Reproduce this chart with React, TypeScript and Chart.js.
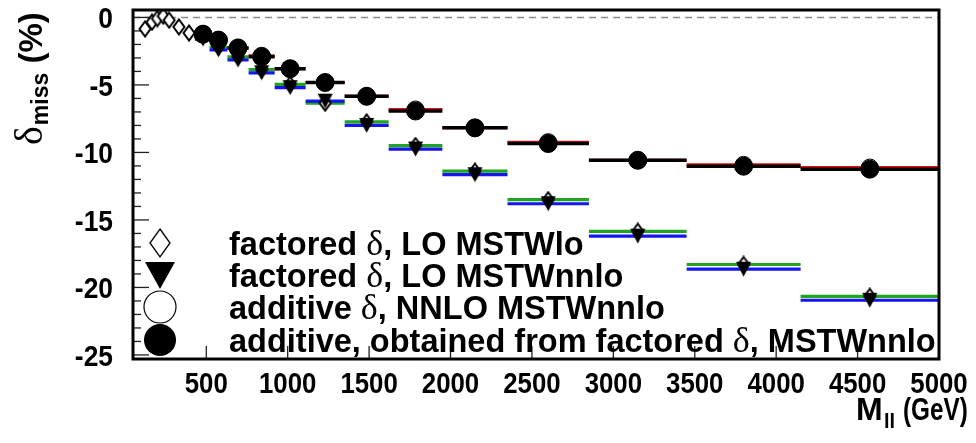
import React, { useEffect, useRef } from "react";
import { Chart, registerables } from "chart.js";
Chart.register(...registerables);

// ---- data ----
const binLow = [430, 520, 630, 760, 920, 1110, 1350, 1620, 1950, 2350, 2850, 3450, 4150];
const binHigh = [520, 630, 760, 920, 1110, 1350, 1620, 1950, 2350, 2850, 3450, 4150, 5000];
const binMass = [480, 575, 695, 840, 1015, 1230, 1485, 1785, 2150, 2600, 3150, 3800, 4575];

// low-mass points of "factored δ, LO MSTWlo"
const lowMass = [124, 167, 200, 236, 272, 332, 394];
const lowMassFactoredLO = [-0.85, -0.35, -0.08, 0.1, -0.2, -0.7, -1.15];

// binned series
const factoredLO = [-1.35, -2.19, -2.92, -3.87, -4.96, -6.35, -7.74, -9.49, -11.39, -13.5, -15.84, -18.3, -20.66]; // green
const factoredNNLO = [-1.6, -2.4, -3.15, -4.1, -5.2, -6.2, -8.0, -9.75, -11.65, -13.8, -16.2, -18.65, -20.95]; // blue
const additiveNNLO = [-1.24, -1.68, -2.26, -2.84, -3.8, -4.82, -5.84, -6.82, -8.18, -9.24, -10.58, -10.92, -11.12]; // red
const additiveFromFactored = [-1.24, -1.68, -2.26, -2.92, -3.8, -4.82, -5.84, -6.93, -8.18, -9.34, -10.58, -11.02, -11.24]; // black

const yTicks = [0, -5, -10, -15, -20, -25];
const xTicks = [500, 1000, 1500, 2000, 2500, 3000, 3500, 4000, 4500, 5000];
const xMin = 50;
const xMax = 5000;
const yMin = -25.3;
const yMax = 0.55;

const legendLabels = [
  ["factored ", "δ", ", LO MSTWlo"],
  ["factored ", "δ", ", LO MSTWnnlo"],
  ["additive ", "δ", ", NNLO MSTWnnlo"],
  ["additive, obtained from factored ", "δ", ", MSTWnnlo"],
];

const SANS = '"Liberation Sans", Arial, Helvetica, sans-serif';
const SERIF = '"Liberation Serif", "Times New Roman", serif';

function binSegments(values: number[]) {
  const pts: { x: number; y: number | null }[] = [];
  values.forEach((v, i) => {
    pts.push({ x: binLow[i], y: v });
    pts.push({ x: binHigh[i], y: v });
    pts.push({ x: binHigh[i], y: null });
  });
  return pts;
}

function makeDiamond(w: number, h: number, lw: number) {
  const c = document.createElement("canvas");
  c.width = w + 3;
  c.height = h + 3;
  const g = c.getContext("2d")!;
  g.beginPath();
  g.moveTo(c.width / 2, 1.5);
  g.lineTo(c.width - 1.5, c.height / 2);
  g.lineTo(c.width / 2, c.height - 1.5);
  g.lineTo(1.5, c.height / 2);
  g.closePath();
  g.fillStyle = "#fff";
  g.fill();
  g.lineWidth = lw;
  g.strokeStyle = "#000";
  g.stroke();
  return c;
}

function makeTriangle(w: number, h: number) {
  const c = document.createElement("canvas");
  c.width = w + 2;
  c.height = h + 2;
  const g = c.getContext("2d")!;
  g.beginPath();
  g.moveTo(1, 1);
  g.lineTo(c.width - 1, 1);
  g.lineTo(c.width / 2, c.height - 1);
  g.closePath();
  g.fillStyle = "#000";
  g.fill();
  return c;
}

function txt(ctx: CanvasRenderingContext2D, s: string, x: number, y: number, font: string, align: CanvasTextAlign, sx = 1) {
  ctx.save();
  ctx.translate(x, y);
  ctx.scale(sx, 1);
  ctx.font = font;
  ctx.textAlign = align;
  ctx.textBaseline = "alphabetic";
  ctx.fillStyle = "#000";
  ctx.fillText(s, 0, 0);
  ctx.restore();
}

const decorPlugin = {
  id: "decor",
  beforeDatasetsDraw(chart: any) {
    const { ctx, chartArea: a, scales } = chart;
    const y0 = scales.y.getPixelForValue(0);
    ctx.save();
    ctx.strokeStyle = "#8c8c8c";
    ctx.lineWidth = 1.5;
    ctx.setLineDash([7, 5]);
    ctx.beginPath();
    ctx.moveTo(a.left, y0);
    ctx.lineTo(a.right, y0);
    ctx.stroke();
    ctx.restore();

    // ticks inside frame
    ctx.save();
    ctx.strokeStyle = "#222";
    ctx.lineWidth = 1.3;
    for (let v = 0; v >= -25; v -= 1) {
      const y = scales.y.getPixelForValue(v);
      const len = v % 5 === 0 ? 16 : 8;
      ctx.beginPath();
      ctx.moveTo(a.left, y);
      ctx.lineTo(a.left + len, y);
      ctx.stroke();
    }
    for (const t of xTicks) {
      const x = scales.x.getPixelForValue(t);
      ctx.beginPath();
      ctx.moveTo(x, a.bottom);
      ctx.lineTo(x, a.bottom - 13);
      ctx.stroke();
    }
    ctx.restore();
  },
  afterDraw(chart: any) {
    const { ctx, chartArea: a, scales } = chart;
    // frame
    ctx.save();
    ctx.strokeStyle = "#000";
    ctx.lineWidth = 3;
    ctx.strokeRect(a.left, a.top, a.right - a.left, a.bottom - a.top);
    ctx.restore();

    // tick labels
    for (const t of yTicks) {
      const y = scales.y.getPixelForValue(t);
      txt(ctx, String(t), 113, y + 11, `bold 30px ${SANS}`, "right", 0.88);
    }
    for (const t of xTicks) {
      const x = scales.x.getPixelForValue(t);
      txt(ctx, String(t), x, 393, `bold 30px ${SANS}`, "center", 0.86);
    }

    // y title
    ctx.save();
    ctx.translate(42, 145);
    ctx.rotate(-Math.PI / 2);
    ctx.fillStyle = "#000";
    ctx.textBaseline = "alphabetic";
    ctx.textAlign = "left";
    ctx.font = `40px ${SERIF}`;
    ctx.fillText("δ", 0, 0);
    let w = ctx.measureText("δ").width;
    ctx.font = `bold 23px ${SANS}`;
    ctx.fillText("miss", w + 1, 6);
    w += 1 + ctx.measureText("miss").width;
    ctx.font = `bold 33px ${SANS}`;
    ctx.fillText(" (%)", w, 0);
    ctx.restore();

    // x title
    txt(ctx, "M", 856, 420, `bold 32px ${SANS}`, "left");
    txt(ctx, "ll", 884, 428, `bold 20px ${SANS}`, "left");
    txt(ctx, "(GeV)", 903, 420, `bold 32px ${SANS}`, "left", 0.76);

    // legend
    const rows = [243, 275, 307, 340];
    const mx = 160;
    ctx.save();
    // diamond
    ctx.beginPath();
    ctx.moveTo(mx, rows[0] - 14);
    ctx.lineTo(mx + 10, rows[0]);
    ctx.lineTo(mx, rows[0] + 14);
    ctx.lineTo(mx - 10, rows[0]);
    ctx.closePath();
    ctx.fillStyle = "#fff";
    ctx.fill();
    ctx.strokeStyle = "#000";
    ctx.lineWidth = 1.3;
    ctx.stroke();
    // triangle
    ctx.beginPath();
    ctx.moveTo(mx - 15, rows[1] - 13);
    ctx.lineTo(mx + 15, rows[1] - 13);
    ctx.lineTo(mx, rows[1] + 14);
    ctx.closePath();
    ctx.fillStyle = "#000";
    ctx.fill();
    // open circle
    ctx.beginPath();
    ctx.arc(mx, rows[2], 16, 0, Math.PI * 2);
    ctx.fillStyle = "#fff";
    ctx.fill();
    ctx.lineWidth = 1.2;
    ctx.stroke();
    // filled circle
    ctx.beginPath();
    ctx.arc(mx, rows[3], 16, 0, Math.PI * 2);
    ctx.fillStyle = "#000";
    ctx.fill();
    ctx.restore();

    legendLabels.forEach((parts, i) => {
      let x = 229;
      const base = rows[i] + 12;
      ctx.save();
      ctx.fillStyle = "#000";
      ctx.textBaseline = "alphabetic";
      ctx.textAlign = "left";
      ctx.font = `bold 32.5px ${SANS}`;
      ctx.fillText(parts[0], x, base);
      x += ctx.measureText(parts[0]).width;
      ctx.font = `36px ${SERIF}`;
      ctx.fillText(parts[1], x, base);
      x += ctx.measureText(parts[1]).width;
      ctx.font = `bold 32.5px ${SANS}`;
      ctx.fillText(parts[2], x, base);
      ctx.restore();
    });
  },
};

export default function App() {
  const ref = useRef<HTMLCanvasElement | null>(null);
  useEffect(() => {
    if (!ref.current) return;
    const diamond = makeDiamond(11, 15, 2);
    const triangle = makeTriangle(15, 15);

    const lineDs = (label: string, values: number[], color: string, width: number, order: number) => ({
      type: "line" as const,
      label,
      data: binSegments(values),
      borderColor: color,
      borderWidth: width,
      pointRadius: 0,
      spanGaps: false,
      fill: false,
      order,
    });

    const diamondPts = [
      ...lowMass.map((m, i) => ({ x: m, y: lowMassFactoredLO[i] })),
      ...binMass.map((m, i) => ({ x: m, y: factoredLO[i] })),
    ];

    const chart = new Chart(ref.current, {
      type: "line",
      data: {
        datasets: [
          lineDs("green", factoredLO, "#1fa51f", 3.2, 90),
          lineDs("blue", factoredNNLO, "#1515f0", 3.2, 80),
          lineDs("red", additiveNNLO, "#e01010", 3, 70),
          lineDs("black", additiveFromFactored, "#000", 3.5, 60),
          {
            type: "scatter" as const,
            label: "factored δ, LO MSTWlo",
            data: diamondPts,
            pointStyle: diamond as any,
            pointRadius: 8,
            showLine: false,
            order: 50,
          },
          {
            type: "scatter" as const,
            label: "factored δ, LO MSTWnnlo",
            data: binMass.map((m, i) => ({ x: m, y: factoredNNLO[i] })),
            pointStyle: triangle as any,
            pointRadius: 8,
            showLine: false,
            order: 40,
          },
          {
            type: "scatter" as const,
            label: "additive δ, NNLO MSTWnnlo",
            data: binMass.map((m, i) => ({ x: m, y: additiveNNLO[i] })),
            pointStyle: "circle",
            pointRadius: 8.5,
            backgroundColor: "#fff",
            borderColor: "#000",
            borderWidth: 1,
            showLine: false,
            order: 30,
          },
          {
            type: "scatter" as const,
            label: "additive, obtained from factored δ, MSTWnnlo",
            data: binMass.map((m, i) => ({ x: m, y: additiveFromFactored[i] })),
            pointStyle: "circle",
            pointRadius: 9,
            backgroundColor: "#000",
            borderColor: "#000",
            borderWidth: 1,
            showLine: false,
            order: 20,
          },
        ] as any,
      },
      options: {
        responsive: false,
        animation: false,
        layout: { padding: { left: 133, top: 5, right: 37, bottom: 84 } },
        plugins: { legend: { display: false }, tooltip: { enabled: false } },
        scales: {
          x: { type: "linear", min: xMin, max: xMax, display: false },
          y: { type: "linear", min: yMin, max: yMax, display: false },
        },
      },
      plugins: [decorPlugin],
    });
    return () => chart.destroy();
  }, []);

  return (
    <div style={{ position: "fixed", left: 0, top: 0, width: 976, height: 443, background: "#fff" }}>
      <canvas ref={ref} width={976} height={443} style={{ display: "block" }} />
    </div>
  );
}
